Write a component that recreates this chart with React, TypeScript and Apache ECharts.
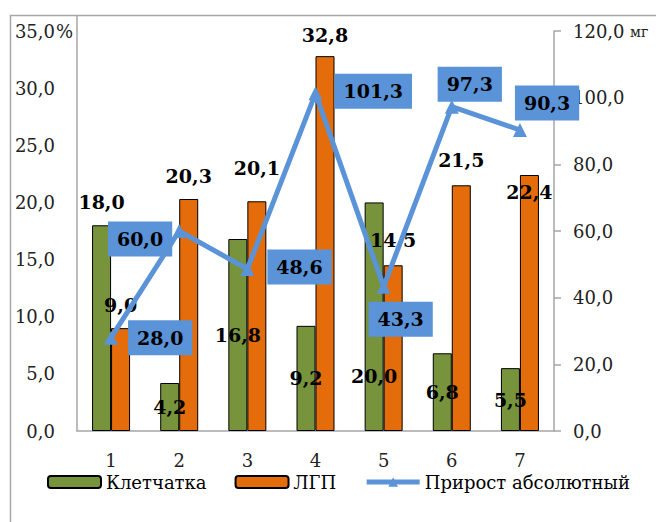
import React, { useEffect, useRef } from "react";
import * as echarts from "echarts";

const categories = ["1", "2", "3", "4", "5", "6", "7"];
const fiber = [18.0, 4.2, 16.8, 9.2, 20.0, 6.8, 5.5];
const lgp = [9.0, 20.3, 20.1, 32.8, 14.5, 21.5, 22.4];
const growth = [28.0, 60.0, 48.6, 101.3, 43.3, 97.3, 90.3];
const seriesNames = ["Клетчатка", "ЛГП", "Прирост абсолютный"];

const leftAxis = { min: 0, max: 35, interval: 5, unit: "%" };
const rightAxis = { min: 0, max: 120, interval: 20, unit: "мг" };

// label placement (style only)
const fiberLabelPos = ["top", "inside", "inside", "inside", "insideBottom", "inside", "inside"];
const fiberLabelDist = [14, 5, 5, 5, 46, 5, 5];
const lgpLabelPos = ["top", "top", "top", "top", "top", "top", "insideTop"];
const lgpLabelDist = [14, 14, 24, 12, 16, 16, 7];
const growthLabelPos = ["right", "left", "right", "right", "bottom", "top", "right"];
const growthLabelDist = [10, 0, 13, 12, 8, -2, 0];
const growthLabelOffset = [[0, 0], [0, 8], [0, -2], [0, -2], [17, 0], [18, 0], [-12, -27]];

const FONT = "DejaVu Serif";
const GREEN = "#77933C";
const ORANGE = "#E46C0A";
const BLUE = "#5A93D7";
const AXIS = "#A6A6A6";

const fmt = (v: number) => v.toFixed(1).replace(".", ",");

export default function App() {
  const ref = useRef<HTMLDivElement>(null);
  useEffect(() => {
    if (!ref.current) return;
    const chart = echarts.init(ref.current, null, { renderer: "svg" });
    const boldLabel = {
      show: true,
      color: "#000",
      fontFamily: FONT,
      fontWeight: "bold",
      fontSize: 19,
      formatter: (p: any) => fmt(p.value),
    };
    chart.setOption({
      animation: false,
      backgroundColor: "#fff",
      textStyle: { fontFamily: FONT },
      grid: { left: 77, right: 102, top: 31, bottom: 91, containLabel: false },
      legend: {
        data: [
          { name: seriesNames[0] },
          { name: seriesNames[1] },
          { name: seriesNames[2], lineStyle: { width: 5, color: BLUE } },
        ],
        left: 42,
        top: 468,
        itemWidth: 53,
        itemHeight: 12,
        itemGap: 28,
        textStyle: { fontFamily: FONT, fontSize: 18, color: "#000" },
      },
      xAxis: {
        type: "category",
        data: categories,
        axisLine: { show: true, lineStyle: { color: AXIS, width: 1.5 } },
        axisTick: { show: false },
        axisLabel: { margin: 20, fontSize: 18, fontFamily: FONT, color: "#222" },
      },
      yAxis: [
        {
          type: "value",
          position: "left",
          min: leftAxis.min,
          max: leftAxis.max,
          interval: leftAxis.interval,
          axisLine: { show: true, lineStyle: { color: AXIS, width: 1.5 } },
          axisTick: { show: false },
          splitLine: { show: false },
          axisLabel: { margin: 22, fontSize: 18, fontFamily: FONT, color: "#222", formatter: (v: number) => fmt(v) },
        },
        {
          type: "value",
          position: "right",
          min: rightAxis.min,
          max: rightAxis.max,
          interval: rightAxis.interval,
          axisLine: { show: true, lineStyle: { color: AXIS, width: 1.5 } },
          axisTick: { show: true, length: 7, lineStyle: { color: AXIS, width: 1.5 } },
          splitLine: { show: false },
          axisLabel: { margin: 19, fontSize: 18, fontFamily: FONT, color: "#222", formatter: (v: number) => fmt(v) },
        },
      ],
      series: [
        {
          name: seriesNames[0],
          type: "bar",
          yAxisIndex: 0,
          barWidth: 19,
          barGap: "0%",
          itemStyle: { color: GREEN, borderColor: "#000", borderWidth: 1 },
          label: boldLabel,
          data: fiber.map((v, i) => ({
            value: v,
            label: { position: fiberLabelPos[i], distance: fiberLabelDist[i] },
          })),
          z: 2,
        },
        {
          name: seriesNames[1],
          type: "bar",
          yAxisIndex: 0,
          barWidth: 19,
          barGap: "0%",
          itemStyle: { color: ORANGE, borderColor: "#000", borderWidth: 1 },
          label: boldLabel,
          data: lgp.map((v, i) => ({
            value: v,
            label: { position: lgpLabelPos[i], distance: lgpLabelDist[i] },
          })),
          z: 2,
        },
        {
          name: seriesNames[2],
          type: "line",
          yAxisIndex: 1,
          symbol: "triangle",
          symbolSize: 14,
          lineStyle: { color: BLUE, width: 5 },
          itemStyle: { color: BLUE },
          label: {
            ...boldLabel,
            backgroundColor: BLUE,
            padding: [8, 9],
          },
          data: growth.map((v, i) => ({
            value: v,
            label: {
              position: growthLabelPos[i],
              distance: growthLabelDist[i],
              offset: growthLabelOffset[i],
            },
          })),
          z: 5,
        },
      ],
      graphic: [
        {
          type: "rect",
          silent: true,
          shape: { x: 10.5, y: 15.5, width: 700, height: 600 },
          style: { fill: "none", stroke: AXIS, lineWidth: 1.5 },
        },
        {
          type: "line",
          silent: true,
          shape: { x1: 77, y1: 16, x2: 77, y2: 31 },
          style: { stroke: AXIS, lineWidth: 1.5 },
        },
        {
          type: "text",
          x: 56,
          y: 31,
          style: { text: leftAxis.unit, fontFamily: FONT, fontSize: 18, fill: "#222", verticalAlign: "middle" },
        },
        {
          type: "text",
          x: 630,
          y: 32,
          style: { text: rightAxis.unit, fontFamily: FONT, fontSize: 14, fill: "#222", verticalAlign: "middle" },
        },
      ],
    });
    return () => chart.dispose();
  }, []);
  return (
    <div
      ref={ref}
      style={{ position: "fixed", left: 0, top: 0, width: 656, height: 522 }}
    />
  );
}
